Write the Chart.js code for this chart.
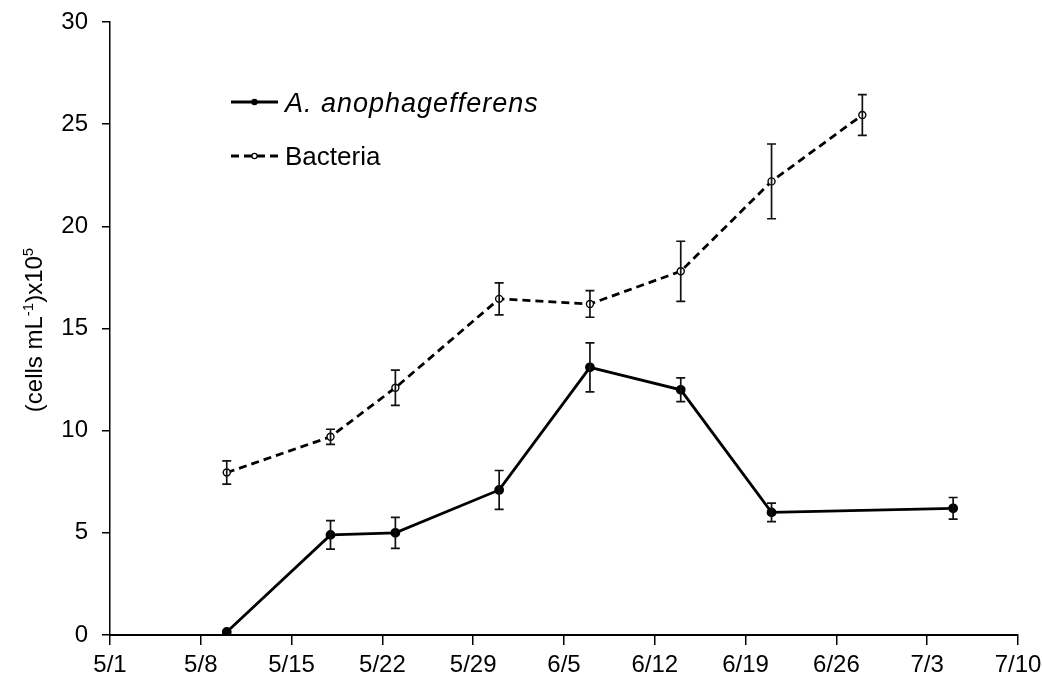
<!DOCTYPE html>
<html>
<head>
<meta charset="utf-8">
<script src="https://cdn.jsdelivr.net/npm/chart.js@4/dist/chart.umd.min.js"></script>
<style>
  html, body { margin: 0; padding: 0; background: #fff; }
  #wrap { width: 1042px; height: 690px; position: relative; }
</style>
</head>
<body>
<div id="wrap"><canvas id="c"></canvas></div>
<script>
// ---- data ----
const anoDates = ['5/10', '5/18', '5/23', '5/31', '6/7', '6/14', '6/21', '7/5'];
const anoValues = [0.15, 4.9, 5.0, 7.1, 13.1, 12.0, 6.0, 6.2];
const anoErrors = [0, 0.7, 0.76, 0.95, 1.2, 0.58, 0.45, 0.53];

const bacDates = ['5/10', '5/18', '5/23', '5/31', '6/7', '6/14', '6/21', '6/28'];
const bacValues = [7.95, 9.7, 12.1, 16.45, 16.2, 17.8, 22.2, 25.45];
const bacErrors = [0.57, 0.37, 0.86, 0.78, 0.65, 1.47, 1.83, 1.0];

const xTickLabels = ['5/1', '5/8', '5/15', '5/22', '5/29', '6/5', '6/12', '6/19', '6/26', '7/3', '7/10'];
const yTickValues = [0, 5, 10, 15, 20, 25, 30];
const seriesLabels = ['A. anophagefferens', 'Bacteria'];
const yTitleParts = [['(cells mL', false], ['-1', true], [')x10', false], ['5', true]];

// ---- helpers ----
const monthOffset = { 5: 0, 6: 31, 7: 61 };
function dayIndex(s) {
  const [m, d] = s.split('/').map(Number);
  return monthOffset[m] + d - 1;
}
function toPoints(dates, vals, errs) {
  return dates.map((d, i) => ({ x: dayIndex(d), y: vals[i], err: errs[i] }));
}

const FONT = "'Liberation Sans', Arial, Helvetica, sans-serif";

const errorBars = {
  id: 'errorBars',
  afterDatasetsDraw(chart) {
    const ctx = chart.ctx;
    const ys = chart.scales.y;
    ctx.save();
    ctx.strokeStyle = '#111';
    ctx.lineWidth = 1.7;
    ctx.setLineDash([]);
    chart.data.datasets.forEach((ds, di) => {
      const meta = chart.getDatasetMeta(di);
      meta.data.forEach((pt, i) => {
        const e = ds.data[i].err;
        if (!e) return;
        const x = pt.x;
        const yt = ys.getPixelForValue(ds.data[i].y + e);
        const yb = ys.getPixelForValue(ds.data[i].y - e);
        ctx.beginPath();
        ctx.moveTo(x, yt); ctx.lineTo(x, yb);
        ctx.moveTo(x - 4.5, yt); ctx.lineTo(x + 4.5, yt);
        ctx.moveTo(x - 4.5, yb); ctx.lineTo(x + 4.5, yb);
        ctx.stroke();
      });
    });
    ctx.restore();
  }
};

const customLegend = {
  id: 'customLegend',
  afterDraw(chart) {
    const ctx = chart.ctx;
    ctx.save();
    const rows = [
      { y: 102, ds: chart.data.datasets[0], font: 'italic 27px ' + FONT, spacing: '1px' },
      { y: 156, ds: chart.data.datasets[1], font: '26px ' + FONT, spacing: '0px' }
    ];
    rows.forEach(r => {
      ctx.strokeStyle = '#000';
      ctx.lineWidth = r.ds.borderWidth;
      ctx.setLineDash(r.ds.borderDash || []);
      ctx.beginPath();
      ctx.moveTo(231, r.y); ctx.lineTo(278, r.y);
      ctx.stroke();
      ctx.setLineDash([]);
      ctx.beginPath();
      ctx.arc(254.5, r.y, 2.6, 0, Math.PI * 2);
      ctx.fillStyle = r.ds.pointBackgroundColor;
      ctx.fill();
      ctx.lineWidth = 1.2;
      ctx.stroke();
      ctx.fillStyle = '#000';
      ctx.font = r.font;
      if ('letterSpacing' in ctx) ctx.letterSpacing = r.spacing;
      ctx.textBaseline = 'middle';
      ctx.textAlign = 'left';
      ctx.fillText(r.ds.label, 285, r.y + 2);
    });
    ctx.restore();
  }
};

const yTitle = {
  id: 'yTitle',
  afterDraw(chart) {
    const ctx = chart.ctx;
    ctx.save();
    ctx.translate(34, 330);
    ctx.rotate(-Math.PI / 2);
    ctx.fillStyle = '#000';
    ctx.textBaseline = 'alphabetic';
    const big = '24px ' + FONT, small = '15px ' + FONT;
    let total = 0;
    yTitleParts.forEach(([t, sup]) => { ctx.font = sup ? small : big; total += ctx.measureText(t).width; });
    let x = -total / 2;
    yTitleParts.forEach(([t, sup]) => {
      ctx.font = sup ? small : big;
      ctx.fillText(t, x, sup ? -1 : 8);
      x += ctx.measureText(t).width;
    });
    ctx.restore();
  }
};

new Chart(document.getElementById('c'), {
  type: 'line',
  data: {
    datasets: [
      {
        label: seriesLabels[0],
        data: toPoints(anoDates, anoValues, anoErrors),
        borderColor: '#000',
        borderWidth: 2.8,
        pointRadius: 3.5,
        pointBackgroundColor: '#000',
        pointBorderColor: '#000',
        tension: 0
      },
      {
        label: seriesLabels[1],
        data: toPoints(bacDates, bacValues, bacErrors),
        borderColor: '#000',
        borderWidth: 2.8,
        borderDash: [8, 5],
        pointRadius: 3.5,
        pointBorderWidth: 1.4,
        pointBackgroundColor: '#fff',
        pointBorderColor: '#000',
        tension: 0
      }
    ]
  },
  options: {
    responsive: true,
    maintainAspectRatio: false,
    animation: false,
    layout: { padding: { left: 0, right: 24, top: 22, bottom: 0 } },
    plugins: { legend: { display: false }, tooltip: { enabled: false } },
    scales: {
      x: {
        type: 'linear',
        min: 0, max: 70,
        afterFit: s => { s.height = 55; s.paddingLeft = 0; s.paddingRight = 0; },
        afterBuildTicks: s => { s.ticks = xTickLabels.map((_, i) => ({ value: i * 7 })); },
        ticks: {
          callback: (v) => xTickLabels[Math.round(v / 7)],
          color: '#000',
          font: { family: FONT, size: 24 },
          padding: 6,
          maxRotation: 0,
          autoSkip: false
        },
        grid: { drawOnChartArea: false, drawTicks: true, tickLength: 10, color: '#000', lineWidth: 1.5 },
        border: { display: true, color: '#000', width: 2 }
      },
      y: {
        min: 0, max: 30,
        afterFit: s => { s.width = 110; s.paddingTop = 0; s.paddingBottom = 0; },
        afterBuildTicks: s => { s.ticks = yTickValues.map(v => ({ value: v })); },
        ticks: {
          color: '#000',
          font: { family: FONT, size: 24 },
          padding: 14
        },
        grid: { drawOnChartArea: false, drawTicks: true, tickLength: 8, color: '#000', lineWidth: 1.5 },
        border: { display: true, color: '#000', width: 1.5 }
      }
    }
  },
  plugins: [errorBars, customLegend, yTitle]
});
</script>
</body>
</html>
